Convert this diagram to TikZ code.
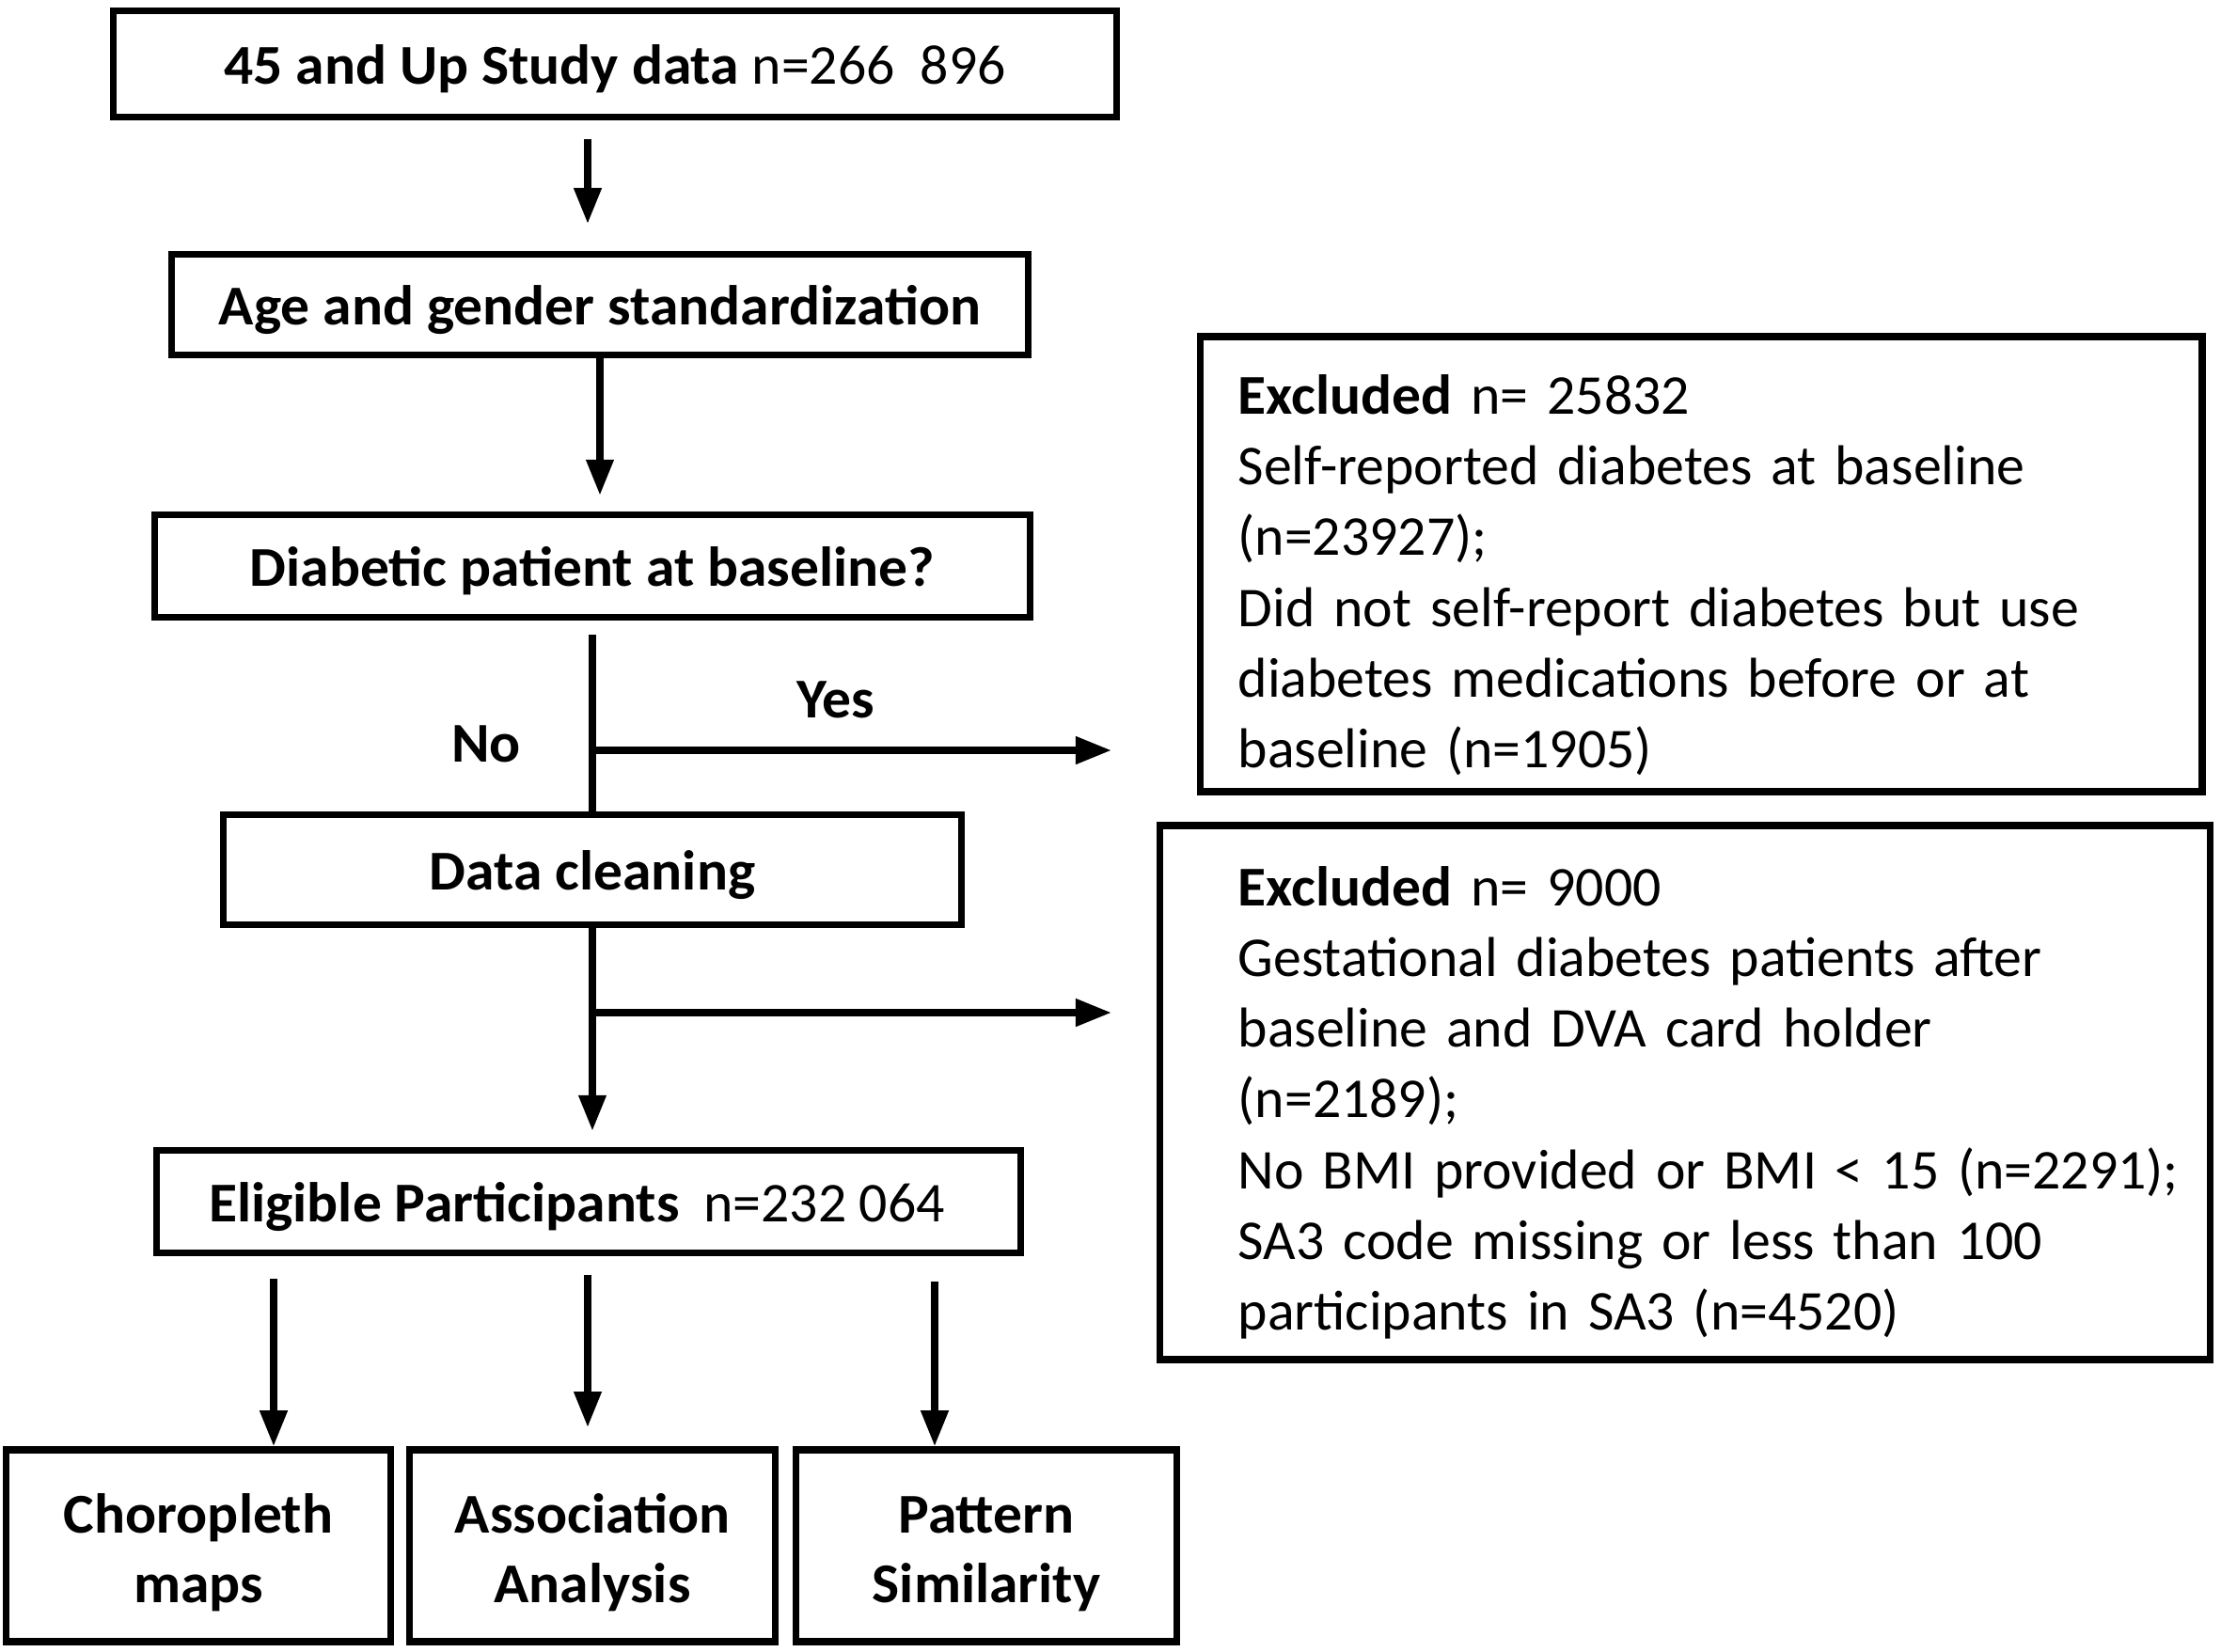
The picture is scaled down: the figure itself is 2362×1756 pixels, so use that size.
\documentclass[tikz,border=0pt]{standalone}
\usepackage{fontspec}
\setmainfont{Carlito}[BoldFeatures={FakeStretch=1.03}]
\usetikzlibrary{arrows.meta}
\newcommand\lowstrut[1]{\rule{0pt}{#1}}

\begin{document}
\begin{tikzpicture}[x=0.01cm,y=-0.01cm,
  box/.style={draw,line width=2.1pt,inner sep=0pt,align=center,font=\bfseries\fontsize{17}{21}\selectfont},
  onebox/.style={box,text height=0.5cm,text depth=0.08cm},
  exclbox/.style={draw,line width=2.1pt,inner sep=0pt,align=left,font=\fontsize{17}{21.4}\selectfont},
  arr/.style={line width=2.1pt,-{Triangle[length=0.38cm,width=0.28cm]}},
  trunk/.style={line width=2.1pt},
  lbl/.style={font=\bfseries\fontsize{17}{21}\selectfont}]
\useasboundingbox (0,0) rectangle (2362,1756);

% main column
\node[onebox,minimum width=10.66cm,minimum height=1.13cm] (study) at (654,68) {45 and Up Study data \textmd{n=266\ \ 896}};
\node[onebox,minimum width=9.10cm,minimum height=1.07cm] (age) at (638,324) {Age and gender standardization};
\node[onebox,minimum width=9.31cm,minimum height=1.09cm] (diab) at (630,602) {Diabetic patient at baseline?};
\node[onebox,minimum width=7.84cm,minimum height=1.17cm] (clean) at (630,925) {Data cleaning};
\node[onebox,minimum width=9.19cm,minimum height=1.09cm] (elig) at (626,1278) {Eligible Participants\hspace{0.12cm} \textmd{n=232 064}\hspace*{0.25cm}};

% outcomes
\node[box,minimum width=4.09cm,minimum height=2.04cm] (choro) at (211,1644) {\lowstrut{16pt}Choropleth\\maps};
\node[box,minimum width=3.89cm,minimum height=2.04cm] (assoc) at (630,1644) {\lowstrut{16pt}Association\\Analysis};
\node[box,minimum width=4.05cm,minimum height=2.04cm] (patt) at (1049,1644) {\lowstrut{16pt}Pattern\\Similarity};

% exclusions
\node[exclbox,minimum width=10.65cm,minimum height=4.84cm,text width=9.84cm] (excl1) at (1809,600)
  {\lowstrut{18.5pt}\textbf{Excluded} n= 25832\\
   Self-reported diabetes at baseline\\
   (n=23927);\\
   Did not self-report diabetes but use\\
   diabetes medications before or at\\
   baseline (n=1905)};
\node[exclbox,minimum width=11.16cm,minimum height=5.68cm,text width=9.5cm] (excl2) at (1792,1162)
  {\lowstrut{18pt}\textbf{Excluded} n= 9000\\
   Gestational diabetes patients after\\
   baseline and DVA card holder\\
   (n=2189);\\
   \mbox{No BMI provided or BMI < 15 (n=2291);}\\
   SA3 code missing or less than 100\\
   participants in SA3 (n=4520)};

% connectors
\coordinate (a1) at (625,148);
\draw[arr] (a1) -- (625,238);
\draw[arr,shorten >=0.17cm] (age.south) -- (age.south |- diab.north);
\draw[trunk,shorten <=0.15cm] (diab.south) -- (clean.north);
\coordinate (yes) at (630,798);
\coordinate (yesend) at (1182,798);
\draw[arr] (yes) -- (yesend);
\draw[arr,shorten >=0.17cm] (clean.south) -- (clean.south |- elig.north);
\coordinate (clean2) at (630,1077);
\coordinate (cleanend) at (1182,1077);
\draw[arr] (clean2) -- (cleanend);
\coordinate (b1) at (291,1360);
\coordinate (b2) at (625,1356);
\coordinate (b3) at (994,1363);
\draw[arr] (b1) -- (b1 |- choro.north);
\draw[arr] (b2) -- (625,1518);
\draw[arr] (b3) -- (b3 |- patt.north);

\node[lbl] (yeslbl) at (889,744) {Yes};
\node[lbl] (nolbl) at (517,791) {No};
\end{tikzpicture}
\end{document}
